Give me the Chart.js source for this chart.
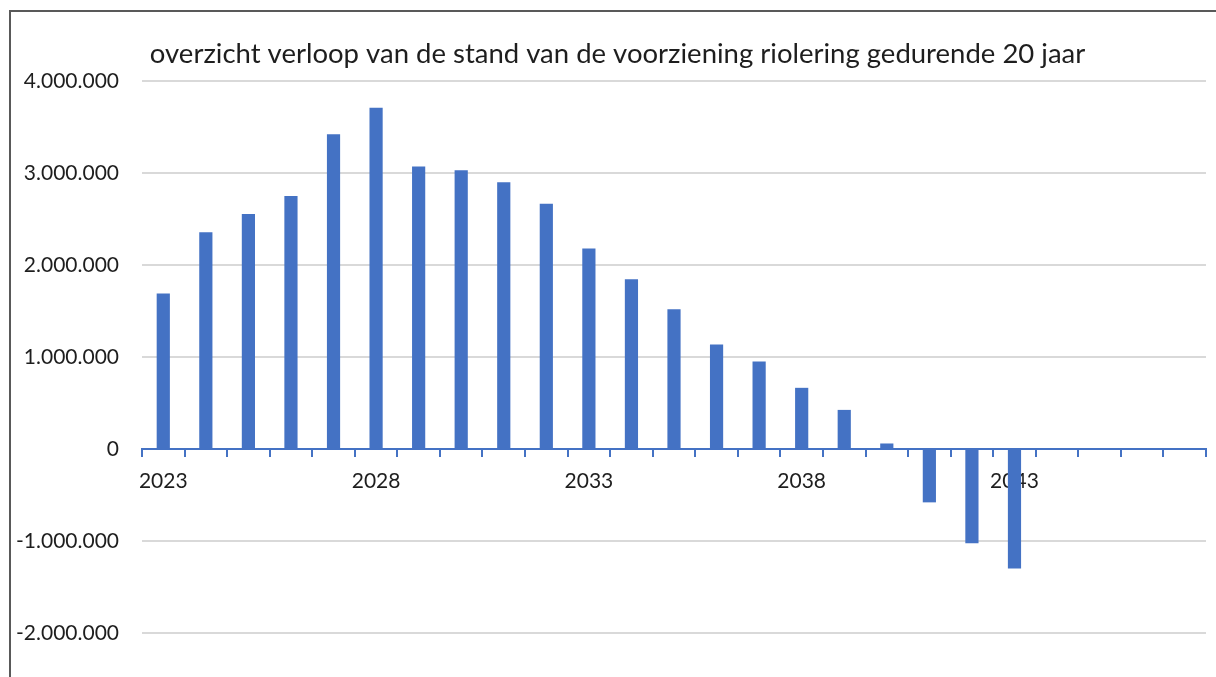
<!DOCTYPE html>
<html>
<head>
<meta charset="utf-8">
<script src="https://cdn.jsdelivr.net/npm/chart.js@4"></script>
<style>
  html, body { margin: 0; background: #fff; overflow: hidden; }
  #wrap { position: relative; width: 1216px; height: 677px; }
  #frame { position: absolute; left: 9px; top: 10px; width: 1230px; height: 700px;
           border-left: 2px solid #595959; border-top: 2px solid #595959; pointer-events: none; }
  canvas { position: absolute; left: 0; top: 0; }
</style>
</head>
<body>
<div id="wrap">
  <canvas id="c" width="1216" height="677"></canvas>
  <div id="frame"></div>
</div>
<script>
// Stand voorziening riolering per jaar (euro)
const BLUE = "#4472C4", GRID = "#d9d9d9", INK = "#1e1e1e";
const TITLE = "overzicht verloop van de stand van de voorziening riolering gedurende 20 jaar";

const years = ["2023","2024","2025","2026","2027","2028","2029","2030","2031","2032",
               "2033","2034","2035","2036","2037","2038","2039","2040","2041","2042",
               "2043","2044","2045","2046","2047"];
const stand = [1690000, 2355000, 2555000, 2750000, 3420000, 3710000, 3070000, 3030000, 2900000, 2665000,
               2180000, 1845000, 1520000, 1135000, 950000, 665000, 425000, 60000, -580000, -1025000,
               -1300000, null, null, null, null];
const yTicks = [-2000000, -1000000, 0, 1000000, 2000000, 3000000, 4000000];

const font = { family: "Lato, 'Open Sans', sans-serif", size: 21 };

function fmt(v){
  const s = Math.abs(v).toString().replace(/\B(?=(\d{3})+(?!\d))/g, ".");
  return (v < 0 ? "-" : "") + s;
}

new Chart(document.getElementById("c"), {
  type: "bar",
  data: { labels: years, datasets: [{ data: stand, backgroundColor: BLUE, barPercentage: 0.31, categoryPercentage: 1 }] },
  options: {
    responsive: false, animation: false,
    layout: { padding: { left: 8, right: 10, top: 0, bottom: 44 } },
    plugins: {
      legend: { display: false },
      tooltip: { enabled: false },
      title: { display: true, text: "\u00a0\u00a0\u00a0" + TITLE, color: INK,
               font: { family: font.family, size: 27.5, weight: "normal" },
               padding: { top: 38, bottom: 10 } }
    },
    scales: {
      x: {
        position: { y: 0 }, z: 1,
        grid: { display: true, drawOnChartArea: false, drawTicks: true, tickLength: 7, color: BLUE, lineWidth: 2, offset: true },
        border: { display: true, color: BLUE, width: 2 },
        ticks: { autoSkip: false, maxRotation: 0, padding: 13, color: INK, font,
                 callback: (v, i) => i % 5 === 0 ? years[i] : "" }
      },
      y: {
        min: yTicks[0], max: yTicks[yTicks.length - 1],
        afterBuildTicks: s => { s.ticks = yTicks.map(v => ({ value: v })); },
        afterFit: s => { s.width = 134; },
        grid: { color: GRID, lineWidth: 2, drawTicks: false },
        border: { display: false },
        ticks: { padding: 23, color: INK, font, callback: v => fmt(v) }
      }
    }
  }
});
</script>
</body>
</html>
